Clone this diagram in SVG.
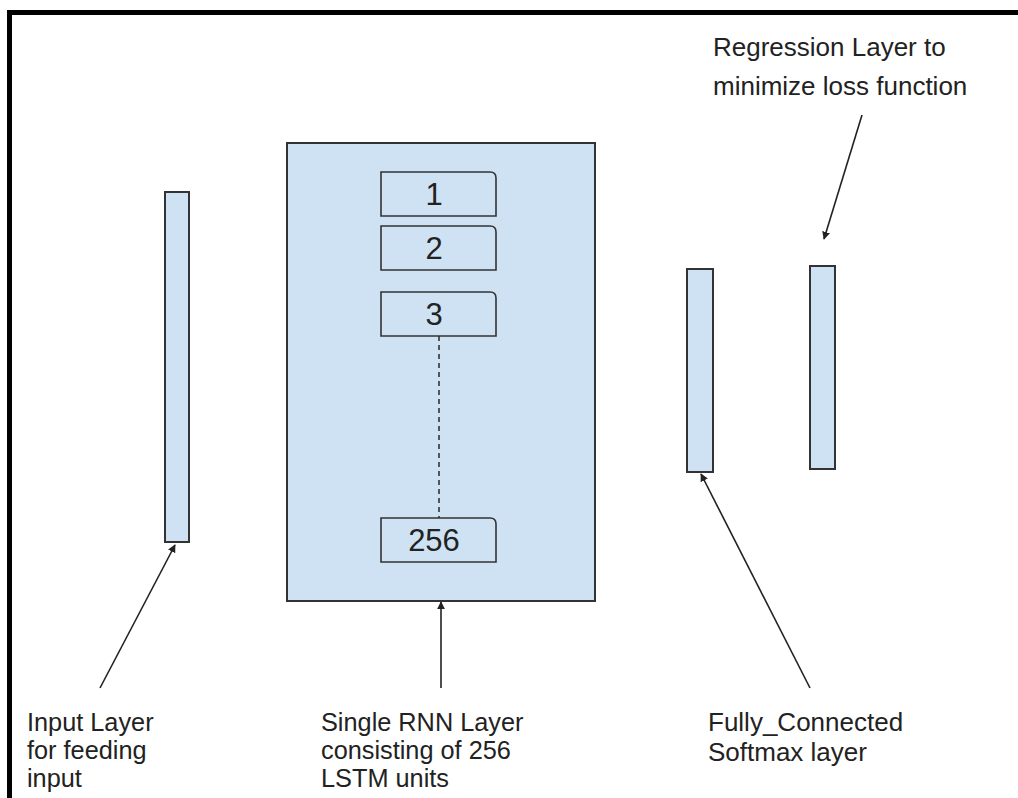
<svg xmlns="http://www.w3.org/2000/svg" width="1018" height="798" viewBox="0 0 1018 798">
  <defs>
    <marker id="arrow" viewBox="0 0 10 10" refX="9" refY="5" markerWidth="8" markerHeight="8" markerUnits="userSpaceOnUse" orient="auto">
      <path d="M0,0 L10,5 L0,10 z" fill="#222"/>
    </marker>
    <style>
      .layer { fill: #cfe2f3; stroke: #333; stroke-width: 2; }
      .unit { fill: #cfe2f3; stroke: #333; stroke-width: 1.6; }
      .unit-label { font-family: "Liberation Sans", Arial, sans-serif; font-size: 31px; fill: #222; text-anchor: middle; }
      .label { font-family: "Liberation Sans", Arial, sans-serif; font-size: 25.3px; fill: #222; }
      .label-wide { font-size: 26px; }
      .link { stroke: #222; stroke-width: 1.6; fill: none; marker-end: url(#arrow); }
    </style>
  </defs>

  <rect x="0" y="0" width="1018" height="798" fill="#fff"/>
  <!-- outer frame -->
  <rect x="9.5" y="12.5" width="1040" height="820" fill="none" stroke="#000" stroke-width="5"/>

  <g id="input-layer">
    <rect class="layer" x="165" y="192" width="24" height="350"/>
  </g>

  <g id="rnn-layer">
    <rect class="layer" x="287" y="143" width="308" height="458" stroke-width="1.6"/>
    <line x1="439" y1="336" x2="439" y2="518" stroke="#333" stroke-width="1.6" stroke-dasharray="5,4"/>
  </g>

  <g id="unit-1">
    <path class="unit" d="M381,172 H490 Q496,172 496,178 V216 H381 Z"/>
    <text class="unit-label" x="434" y="205">1</text>
  </g>
  <g id="unit-2">
    <path class="unit" d="M381,226 H490 Q496,226 496,232 V270 H381 Z"/>
    <text class="unit-label" x="434" y="259">2</text>
  </g>
  <g id="unit-3">
    <path class="unit" d="M381,292 H490 Q496,292 496,298 V336 H381 Z"/>
    <text class="unit-label" x="434" y="325">3</text>
  </g>
  <g id="unit-256">
    <path class="unit" d="M381,518 H490 Q496,518 496,524 V562 H381 Z"/>
    <text class="unit-label" x="434" y="551">256</text>
  </g>

  <g id="fc-layer">
    <rect class="layer" x="687" y="269" width="26" height="203"/>
  </g>

  <g id="regression-layer">
    <rect class="layer" x="810" y="266" width="25" height="203"/>
  </g>

  <g id="connectors">
    <line class="link" x1="100" y1="688" x2="175" y2="545"/>
    <line class="link" x1="441" y1="688" x2="441" y2="602"/>
    <line class="link" x1="810" y1="688" x2="701" y2="474"/>
    <line class="link" x1="862" y1="115" x2="824" y2="239"/>
  </g>

  <g id="label-input">
    <text class="label" x="27" y="731">Input Layer</text>
    <text class="label" x="27" y="759">for feeding</text>
    <text class="label" x="27" y="787">input</text>
  </g>
  <g id="label-rnn">
    <text class="label" x="321" y="731">Single RNN Layer</text>
    <text class="label" x="321" y="759">consisting of 256</text>
    <text class="label" x="321" y="787">LSTM units</text>
  </g>
  <g id="label-fc">
    <text class="label label-wide" x="708" y="731">Fully_Connected</text>
    <text class="label label-wide" x="708" y="761">Softmax layer</text>
  </g>
  <g id="label-regression">
    <text class="label label-wide" x="713" y="56">Regression Layer to</text>
    <text class="label label-wide" x="713" y="95">minimize loss function</text>
  </g>
</svg>
